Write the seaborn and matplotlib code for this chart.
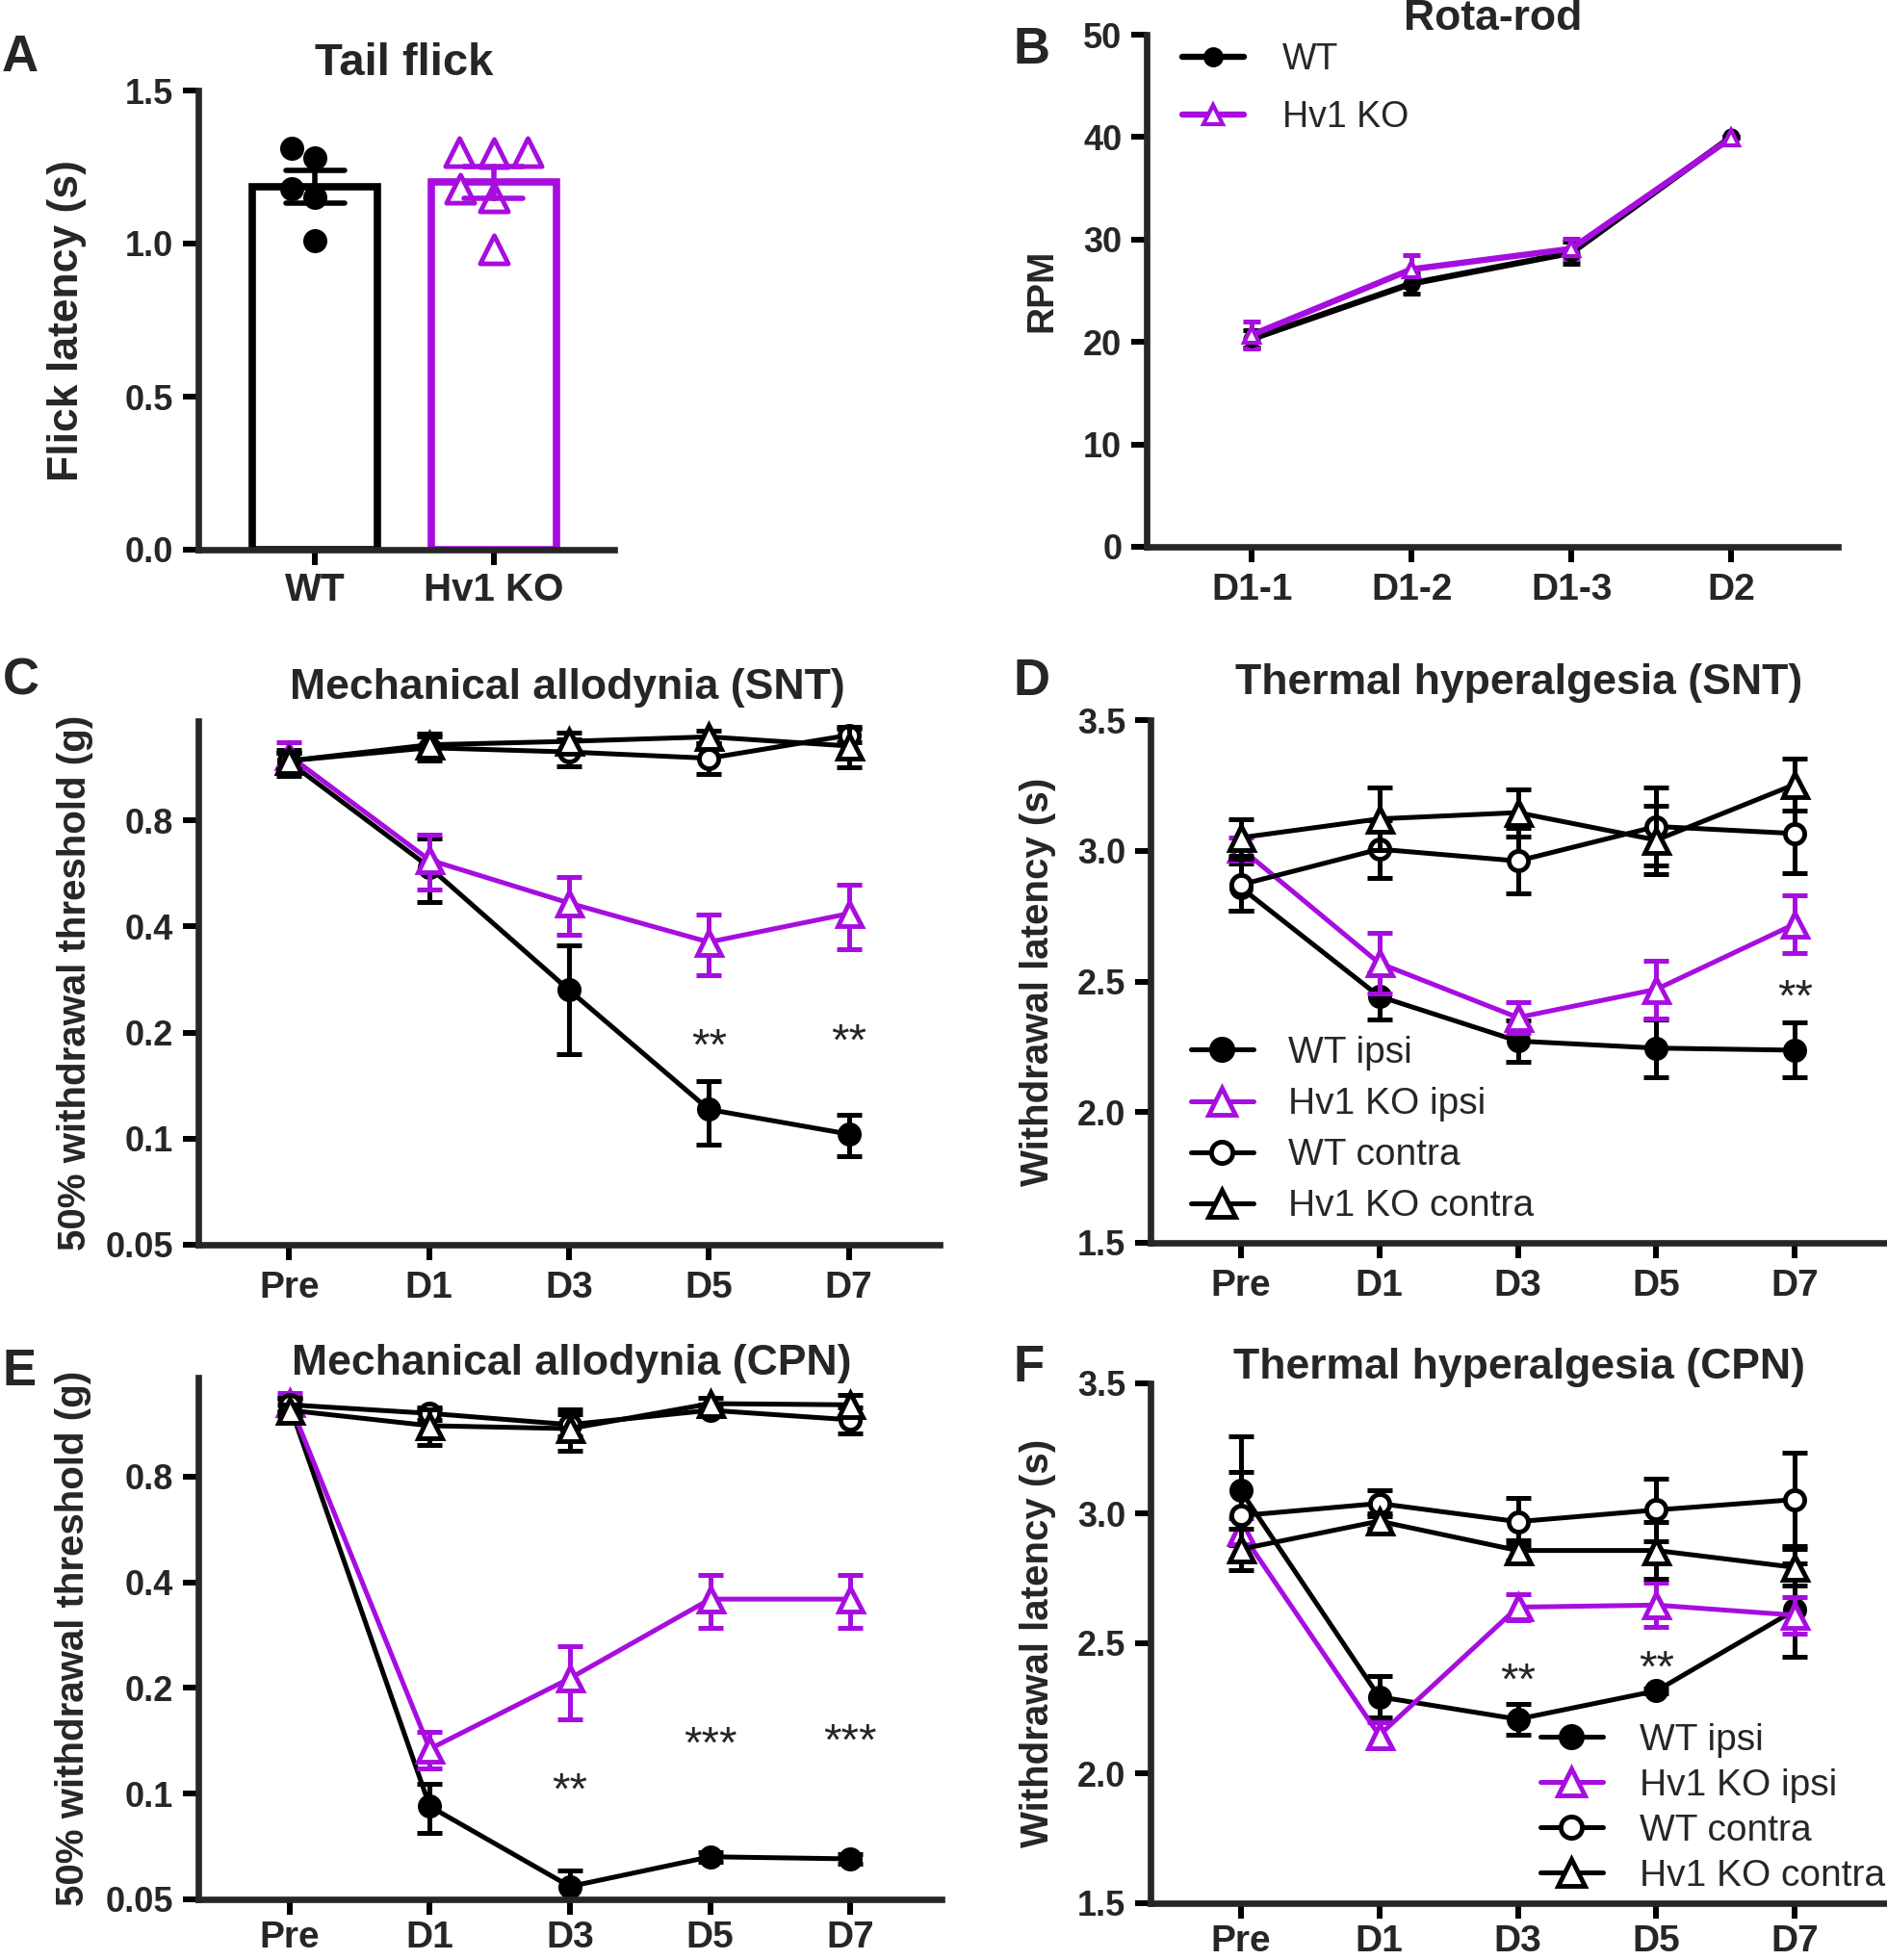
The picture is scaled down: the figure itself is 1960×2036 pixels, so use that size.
import numpy as np
import pandas as pd
import matplotlib
matplotlib.use('Agg')
import matplotlib.pyplot as plt
from matplotlib.ticker import NullLocator
import seaborn as sns

purple = '#A70DDF'

# ---- panel A: tail flick (individual animals)
genotypes = ['WT', 'Hv1 KO']
tail_wt = [1.28, 1.31, 1.18, 1.15, 1.01]
tail_ko = [1.30, 1.295, 1.30, 1.18, 1.15, 0.98]

# ---- panel B: rota-rod
rota_days = ['D1-1', 'D1-2', 'D1-3', 'D2']
rota_wt = [20.3, 25.7, 28.7, 40.0]
rota_wt_sem = [0.8, 1.0, 1.1, 0.0]
rota_ko = [20.7, 27.1, 29.1, 39.9]
rota_ko_sem = [1.3, 1.4, 1.0, 0.0]

# ---- panels C-F: rows follow `groups`, columns follow `days`
days = ['Pre', 'D1', 'D3', 'D5', 'D7']
groups = ['WT ipsi', 'Hv1 KO ipsi', 'WT contra', 'Hv1 KO contra']

snt_mech = [[1.17, 0.59, 0.264, 0.121, 0.103],
            [1.22, 0.618, 0.466, 0.361, 0.435],
            [1.18, 1.285, 1.25, 1.20, 1.395],
            [1.18, 1.31, 1.34, 1.38, 1.30]]
snt_mech_sem = [[0.10, 0.12, 0.09, 0.025, 0.014],
                [0.11, 0.11, 0.087, 0.071, 0.09],
                [0.06, 0.10, 0.11, 0.12, 0.06],
                [0.06, 0.10, 0.08, 0.06, 0.17]]
snt_mech_star_day = ['D5', 'D7']
snt_mech_star_y = [0.181, 0.187]
snt_mech_star = ['**', '**']

snt_therm = [[2.86, 2.443, 2.272, 2.245, 2.237],
             [3.01, 2.57, 2.362, 2.47, 2.72],
             [2.87, 3.006, 2.961, 3.093, 3.066],
             [3.05, 3.122, 3.146, 3.041, 3.254]]
snt_therm_sem = [[0.09, 0.09, 0.08, 0.11, 0.105],
                 [0.04, 0.115, 0.06, 0.11, 0.11],
                 [0.10, 0.11, 0.125, 0.15, 0.15],
                 [0.07, 0.12, 0.09, 0.13, 0.10]]
snt_therm_star_day = ['D7']
snt_therm_star_y = [2.433]
snt_therm_star = ['**']

cpn_mech = [[1.28, 0.092, 0.0544, 0.0661, 0.0652],
            [1.30, 0.134, 0.213, 0.358, 0.358],
            [1.28, 1.21, 1.124, 1.235, 1.16],
            [1.235, 1.116, 1.095, 1.29, 1.28]]
cpn_mech_sem = [[0.06, 0.0145, 0.006, 0.002, 0.002],
                [0.08, 0.016, 0.05, 0.062, 0.062],
                [0.05, 0.05, 0.08, 0.05, 0.10],
                [0.05, 0.13, 0.15, 0.05, 0.09]]
cpn_mech_star_day = ['D3', 'D5', 'D7']
cpn_mech_star_y = [0.101, 0.137, 0.1395]
cpn_mech_star = ['**', '***', '***']

cpn_therm = [[3.088, 2.294, 2.208, 2.317, 2.628],
             [2.93, 2.146, 2.639, 2.647, 2.608],
             [2.991, 3.038, 2.968, 3.013, 3.053],
             [2.862, 2.97, 2.857, 2.857, 2.792]]
cpn_therm_sem = [[0.21, 0.08, 0.06, 0.01, 0.18],
                 [0.05, 0.05, 0.05, 0.085, 0.07],
                 [0.17, 0.05, 0.09, 0.12, 0.18],
                 [0.08, 0.03, 0.04, 0.11, 0.07]]
cpn_therm_star_day = ['D3', 'D5']
cpn_therm_star_y = [2.351, 2.397]
cpn_therm_star = ['**', '**']

line_styles = {
    'WT ipsi': dict(color='black', marker='o', mfc='black', ms=14.5),
    'Hv1 KO ipsi': dict(color=purple, marker='^', mfc='white', ms=18),
    'WT contra': dict(color='black', marker='o', mfc='white', ms=14.5),
    'Hv1 KO contra': dict(color='black', marker='^', mfc='white', ms=18),
}

W, H = 1960, 2036

sns.set_style('ticks')
plt.rcParams['font.family'] = ['Liberation Sans', 'DejaVu Sans']

fig = plt.figure(figsize=(W / 100, H / 100), dpi=100)


def box(l, t, r, b):
    return [l / W, 1 - b / H, (r - l) / W, (b - t) / H]


def fig_text(x, y, s, size, **kw):
    fig.text(x / W, 1 - y / H, s, fontsize=size, va='baseline', **kw)


def style_axis(ax, ylabel, labelpad, ysize=26, xsize=28, xpad=8):
    sns.despine(ax=ax)
    for side in ['left', 'bottom']:
        ax.spines[side].set_linewidth(4.8)
    ax.tick_params(direction='out', length=11.5, width=4.3, color='black')
    ax.tick_params(axis='y', labelsize=ysize, pad=7)
    ax.tick_params(axis='x', labelsize=xsize, pad=xpad)
    plt.setp(ax.get_xticklabels() + ax.get_yticklabels(), fontweight='bold')
    ax.set_xlabel('')
    ax.set_ylabel(ylabel, fontsize=29, fontweight='bold', labelpad=labelpad)


def time_course(ax, means, sems):
    x = np.arange(len(days))
    handles = []
    for i, g in enumerate(groups):
        st = line_styles[g]
        ax.errorbar(x, means[i], yerr=sems[i], fmt='none', ecolor=st['color'],
                    elinewidth=3.6, capsize=9.5, capthick=3.6, zorder=2 + i)
        sns.lineplot(x=x, y=means[i], ax=ax, color=st['color'], linewidth=3.6,
                     marker=st['marker'], markersize=st['ms'], markerfacecolor=st['mfc'],
                     markeredgecolor=st['color'], markeredgewidth=3.5, sort=False,
                     errorbar=None, legend=False, zorder=2.5 + i, clip_on=False)
        handles.append(ax.lines[-1])
    ax.set_xticks(x, days)
    ax.set_xlim(-0.65, 4.65)
    return handles


def stars(ax, star_day, star_y, star_txt):
    for d, y, t in zip(star_day, star_y, star_txt):
        ax.text(days.index(d), y, t, ha='center', va='center', fontsize=34)


def log_axis(ax):
    ax.set_yscale('log', base=2)
    ax.set_ylim(0.05, 1.53)
    ax.set_yticks([0.05, 0.1, 0.2, 0.4, 0.8], ['0.05', '0.1', '0.2', '0.4', '0.8'])
    ax.yaxis.set_minor_locator(NullLocator())


# ---------------- A
axA = fig.add_axes(box(206, 94, 638, 571))
tail = pd.DataFrame({'genotype': ['WT'] * len(tail_wt) + ['Hv1 KO'] * len(tail_ko),
                     'latency': tail_wt + tail_ko})
sns.barplot(data=tail, x='genotype', y='latency', hue='genotype', order=genotypes,
            hue_order=genotypes, palette={'WT': 'black', 'Hv1 KO': purple}, fill=False,
            linewidth=5.5, width=0.7, errorbar='se', capsize=0.33,
            err_kws={'linewidth': 4}, legend=False, ax=axA)
sns.swarmplot(x=['WT'] * len(tail_wt), y=tail_wt, order=genotypes, color='black',
              size=18, ax=axA, zorder=1)
sns.swarmplot(x=['Hv1 KO'] * len(tail_ko), y=tail_ko, order=genotypes, marker='^',
              color=purple, size=21, ax=axA, zorder=1)
tri = axA.collections[-1]
tri.set_facecolor('white')
tri.set_edgecolor(purple)
tri.set_linewidth(3.5)
axA.set_ylim(0, 1.5)
axA.set_xlim(-0.654, 1.676)
axA.set_yticks([0, 0.5, 1.0, 1.5], ['0.0', '0.5', '1.0', '1.5'])
style_axis(axA, 'Flick latency (s)', 29, ysize=26, xsize=29, xpad=5)
axA.yaxis.label.set_fontsize(32)

# ---------------- B
axB = fig.add_axes(box(1191, 36, 1909, 568))
xb = np.arange(len(rota_days))
b_handles = []
for means, sems, color, marker, mfc, ms in [(rota_wt, rota_wt_sem, 'black', 'o', 'black', 10),
                                            (rota_ko, rota_ko_sem, purple, '^', 'white', 12)]:
    axB.errorbar(xb, means, yerr=sems, fmt='none', ecolor=color, elinewidth=3.6,
                 capsize=6.5, capthick=3.6, zorder=2)
    sns.lineplot(x=xb, y=means, ax=axB, color=color, linewidth=4.6, marker=marker,
                 markersize=ms, markerfacecolor=mfc, markeredgecolor=color,
                 markeredgewidth=3, sort=False, errorbar=None, legend=False,
                 zorder=3, clip_on=False)
    b_handles.append(axB.lines[-1])
axB.set_xticks(xb, rota_days)
axB.set_xlim(-0.66, 3.67)
axB.set_ylim(0, 50)
axB.set_yticks(range(0, 51, 10))
style_axis(axB, 'RPM', 18)
axB.yaxis.label.set_fontsize(28)
axB.legend(b_handles, genotypes, loc='upper left', bbox_to_anchor=(1228 / W, 1 - 44 / H),
           bbox_transform=fig.transFigure, frameon=False, fontsize=27, handlelength=1.7,
           handletextpad=1.07, labelspacing=0.64, borderpad=0, borderaxespad=0,
           markerscale=1.2)

# ---------------- C
axC = fig.add_axes(box(206, 749, 976, 1293))
time_course(axC, snt_mech, snt_mech_sem)
log_axis(axC)
stars(axC, snt_mech_star_day, snt_mech_star_y, snt_mech_star)
style_axis(axC, '50% withdrawal threshold (g)', 9)

# ---------------- D
axD = fig.add_axes(box(1195, 748, 1958, 1291))
d_handles = time_course(axD, snt_therm, snt_therm_sem)
axD.set_ylim(1.5, 3.5)
axD.set_yticks([1.5, 2.0, 2.5, 3.0, 3.5], ['1.5', '2.0', '2.5', '3.0', '3.5'])
stars(axD, snt_therm_star_day, snt_therm_star_y, snt_therm_star)
style_axis(axD, 'Withdrawal latency (s)', 16)
axD.legend(d_handles, groups, loc='upper left', bbox_to_anchor=(1237 / W, 1 - 1076 / H),
           bbox_transform=fig.transFigure, frameon=False, fontsize=28, handlelength=1.67,
           handletextpad=0.93, labelspacing=0.44, borderpad=0, borderaxespad=0,
           markerscale=1.1)

# ---------------- E
axE = fig.add_axes(box(206, 1431, 978, 1973))
time_course(axE, cpn_mech, cpn_mech_sem)
log_axis(axE)
stars(axE, cpn_mech_star_day, cpn_mech_star_y, cpn_mech_star)
style_axis(axE, '50% withdrawal threshold (g)', 11, xpad=4)

# ---------------- F
axF = fig.add_axes(box(1195, 1437, 1958, 1977))
f_handles = time_course(axF, cpn_therm, cpn_therm_sem)
axF.set_ylim(1.5, 3.5)
axF.set_yticks([1.5, 2.0, 2.5, 3.0, 3.5], ['1.5', '2.0', '2.5', '3.0', '3.5'])
stars(axF, cpn_therm_star_day, cpn_therm_star_y, cpn_therm_star)
style_axis(axF, 'Withdrawal latency (s)', 16, xpad=4)
axF.legend(f_handles, groups, loc='upper left', bbox_to_anchor=(1600 / W, 1 - 1790 / H),
           bbox_transform=fig.transFigure, frameon=False, fontsize=28, handlelength=1.67,
           handletextpad=0.98, labelspacing=0.28, borderpad=0, borderaxespad=0,
           markerscale=1.1)

# ---------------- titles and panel letters
fig_text(420, 78, 'Tail flick', 34, ha='center', fontweight='bold')
fig_text(1551, 31, 'Rota-rod', 32, ha='center', fontweight='bold')
fig_text(589, 726, 'Mechanical allodynia (SNT)', 32, ha='center', fontweight='bold')
fig_text(1578, 721, 'Thermal hyperalgesia (SNT)', 32, ha='center', fontweight='bold')
fig_text(594, 1428, 'Mechanical allodynia (CPN)', 32, ha='center', fontweight='bold')
fig_text(1578, 1432, 'Thermal hyperalgesia (CPN)', 32, ha='center', fontweight='bold')

for letter, x, y in [('A', 2, 74), ('B', 1052, 66), ('C', 3, 722),
                     ('D', 1052, 722), ('E', 3, 1439), ('F', 1052, 1435)]:
    fig_text(x, y, letter, 38, ha='left', fontweight='bold')

fig.savefig('out.png', dpi=100)
